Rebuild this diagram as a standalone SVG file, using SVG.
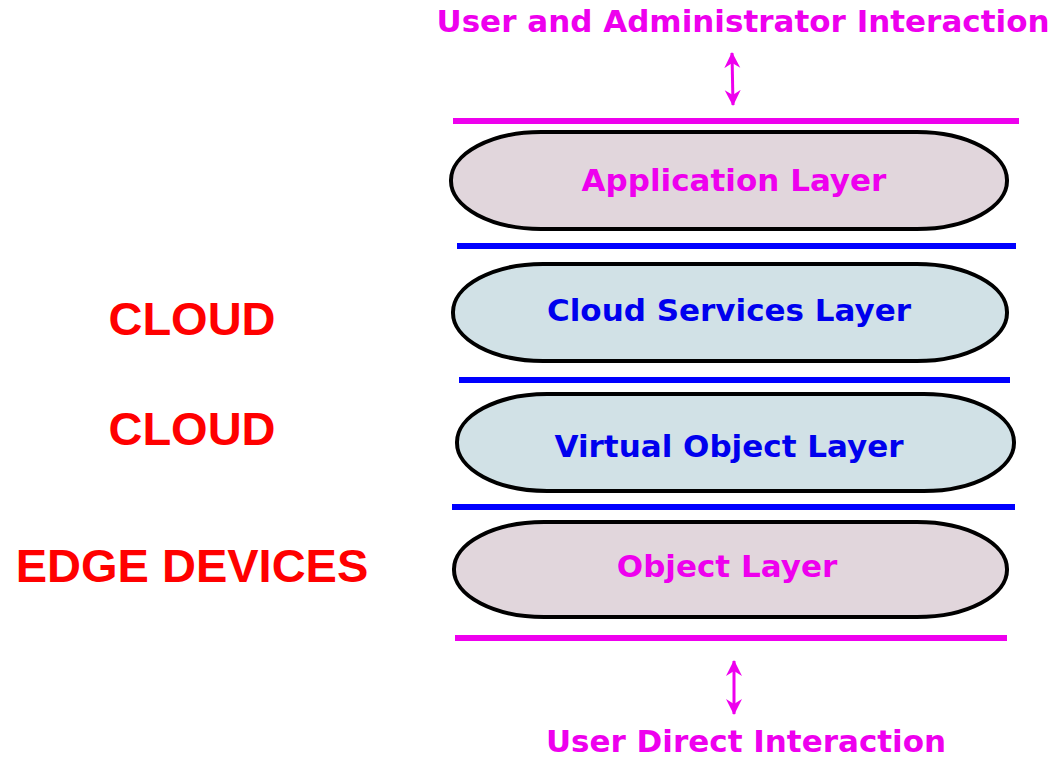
<svg xmlns="http://www.w3.org/2000/svg" width="1057" height="758" viewBox="0 0 1057 758">
<style>
.t{font-family:"DejaVu Sans",sans-serif;font-weight:bold;font-size:31px;text-anchor:middle}
.m{fill:#ee00ee}
.b{fill:#0000ee}
.side{font-family:"Liberation Sans",Arial,sans-serif;font-weight:bold;font-size:47px;fill:#ff0000}
.pill{stroke:#000;stroke-width:4}
.pink{fill:#e1d6dc}
.blue{fill:#d1e1e6}
.ml{stroke:#ee00ee;stroke-width:6}
.bl{stroke:#0000ff;stroke-width:6}
</style>
<defs>
<marker id="ah" viewBox="0 0 16 18" refX="15" refY="9" markerWidth="16" markerHeight="18" markerUnits="userSpaceOnUse" orient="auto-start-reverse">
<path d="M0,1 L16,9 L0,17 L5,9 Z" fill="#ee00ee"/>
</marker>
</defs>
<rect width="1057" height="758" fill="#fff"/>
<g id="labels">
<text class="t m" x="743" y="32">User and Administrator Interaction</text>
<text class="t m" x="746" y="752">User Direct Interaction</text>
<text class="side" x="192" y="335" text-anchor="middle">CLOUD</text>
<text class="side" x="192" y="445" text-anchor="middle">CLOUD</text>
<text class="side" x="192" y="582" text-anchor="middle">EDGE DEVICES</text>
</g>
<g id="connectors">
<line x1="732" y1="53" x2="733" y2="105" stroke="#ee00ee" stroke-width="3" marker-start="url(#ah)" marker-end="url(#ah)"/>
<line x1="734" y1="661" x2="734" y2="714" stroke="#ee00ee" stroke-width="3" marker-start="url(#ah)" marker-end="url(#ah)"/>
<line class="ml" x1="453" y1="121" x2="1019" y2="121"/>
<line class="bl" x1="457" y1="246" x2="1016" y2="246"/>
<line class="bl" x1="459" y1="380" x2="1010" y2="380"/>
<line class="bl" x1="452" y1="507" x2="1015" y2="507"/>
<line class="ml" x1="455" y1="638" x2="1007" y2="638"/>
</g>
<g id="application">
<rect class="pill pink" x="451" y="132" width="556" height="97" rx="90" ry="48"/>
<text class="t m" x="734" y="191">Application Layer</text>
</g>
<g id="cloudservices">
<rect class="pill blue" x="453" y="264" width="554" height="97" rx="90" ry="48"/>
<text class="t b" x="729" y="321">Cloud Services Layer</text>
</g>
<g id="virtualobject">
<rect class="pill blue" x="457" y="394" width="557" height="97" rx="90" ry="48"/>
<text class="t b" x="729" y="457">Virtual Object Layer</text>
</g>
<g id="object">
<rect class="pill pink" x="454" y="522" width="553" height="95" rx="90" ry="47"/>
<text class="t m" x="727" y="577">Object Layer</text>
</g>
</svg>
